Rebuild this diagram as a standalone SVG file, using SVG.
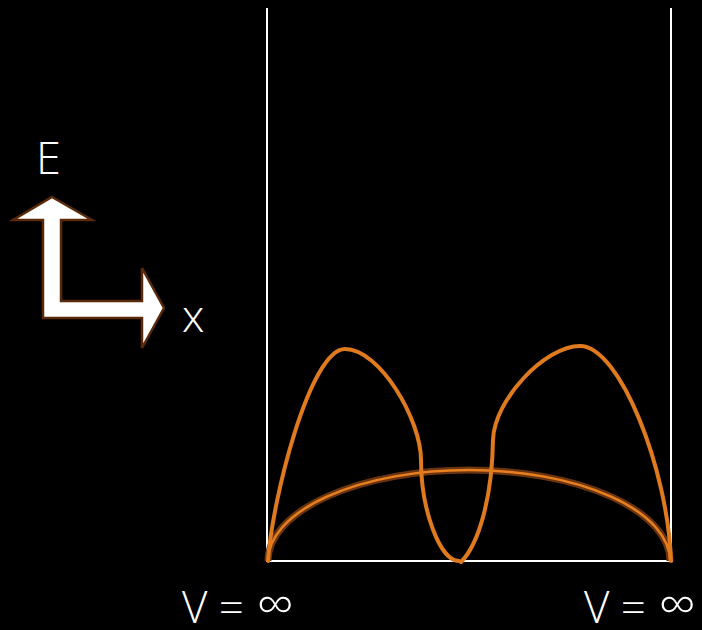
<svg xmlns="http://www.w3.org/2000/svg" width="702" height="630" viewBox="0 0 702 630">
<style>
.wall{stroke:#ffffff;stroke-width:2;fill:none}
.lbl{fill:#ffffff;font-family:"Open Sans","DejaVu Sans",sans-serif;font-weight:300}
.psi{fill:none;stroke:#e07a1f;stroke-width:4;stroke-linecap:round}
</style>
<rect width="702" height="630" fill="#000000"/>
<g id="well">
<line class="wall" x1="267" y1="8" x2="267" y2="562"/>
<line class="wall" x1="671" y1="8" x2="671" y2="562"/>
<line class="wall" x1="267" y1="561" x2="673" y2="561"/>
</g>
<g id="axes">
<polygon points="52,197 92,220 61,220 61,301 142,301 142,268 164,308 142,348 142,318 43,318 43,220 13,220" fill="#ffffff" stroke="#5a2a08" stroke-width="2.5" stroke-linejoin="miter"/>
<text class="lbl" x="36" y="174" font-size="45">E</text>
<text class="lbl" x="182" y="332" font-size="45">x</text>
</g>
<g id="ground">
<path d="M268,561 A201 91 0 0 1 670,561" fill="none" stroke="#6b3410" stroke-width="7"/>
<path d="M268,561 A201 91 0 0 1 670,561" fill="none" stroke="#e8801f" stroke-width="2.5"/>
</g>
<g id="excited">
<path class="psi" d="M268,561 C272,500 310,349 345,349 C380,349 421,420 421,460 C421,510 440,561 459,561"/>
<path class="psi" d="M461,562 C478,545 492,500 493,440 C494,400 545,346 580,346 C620,346 668,470 671,561"/>
</g>
<g id="labels">
<text class="lbl" x="182" y="623" font-size="44">V =<tspan x="257" font-size="52">∞</tspan></text>
<text class="lbl" x="584" y="623" font-size="44">V =<tspan x="659" font-size="52">∞</tspan></text>
</g>
</svg>
